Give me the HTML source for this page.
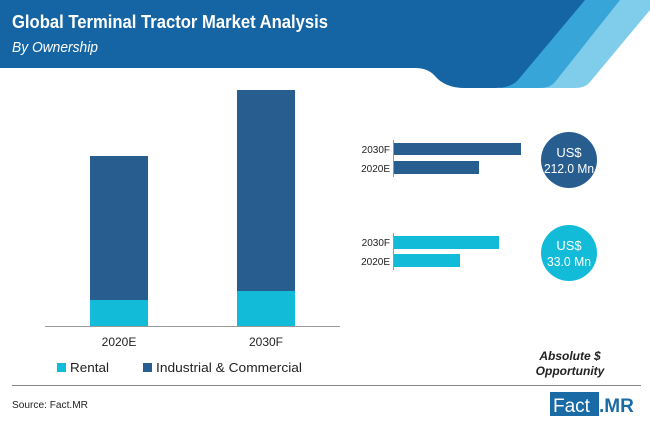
<!DOCTYPE html><html><head><style>body{margin:0;background:#fff}svg{display:block}text{font-family:"Liberation Sans",sans-serif}</style></head><body>
<svg width="650" height="427" viewBox="0 0 650 427">
<path d="M600,0 L650,0 L650,10 L590,82 Q585,88 575,88 L520,88 Z" fill="#7fcdeb"/>
<path d="M560,0 L620,0 L555,82 Q550,88 540,88 L500,88 Z" fill="#37a5d8"/>
<path d="M0,0 L585,0 L518,80 Q511,88 495,88 L465,88 Q445,88 435,76 Q428,68 415,68 L0,68 Z" fill="#1565a4"/>
<text x="12" y="28" font-size="18" font-weight="bold" fill="#fff" textLength="316" lengthAdjust="spacingAndGlyphs">Global Terminal Tractor Market Analysis</text>
<text x="12" y="52" font-size="15" font-style="italic" fill="#fff" textLength="86" lengthAdjust="spacingAndGlyphs">By Ownership</text>
<line x1="45" y1="326.5" x2="340" y2="326.5" stroke="#999"/>
<rect x="90" y="156" width="58" height="144" fill="#285d90"/>
<rect x="90" y="300" width="58" height="26" fill="#12bcd9"/>
<rect x="237" y="90" width="58" height="201" fill="#285d90"/>
<rect x="237" y="291" width="58" height="35" fill="#12bcd9"/>
<text x="119" y="346" font-size="12" text-anchor="middle" fill="#222">2020E</text>
<text x="266" y="346" font-size="12" text-anchor="middle" fill="#222">2030F</text>
<rect x="57" y="363" width="9" height="9" fill="#12bcd9"/>
<text x="70" y="372" font-size="13" fill="#222" textLength="39" lengthAdjust="spacingAndGlyphs">Rental</text>
<rect x="143" y="363" width="9" height="9" fill="#285d90"/>
<text x="156" y="372" font-size="13" fill="#222" textLength="146" lengthAdjust="spacingAndGlyphs">Industrial &amp; Commercial</text>
<line x1="393.5" y1="140" x2="393.5" y2="177" stroke="#999"/>
<rect x="394" y="143" width="127" height="12" fill="#285d90"/>
<rect x="394" y="161" width="85" height="13" fill="#285d90"/>
<text x="390" y="153" font-size="10" text-anchor="end" fill="#222">2030F</text>
<text x="390" y="172" font-size="10" text-anchor="end" fill="#222">2020E</text>
<line x1="393.5" y1="233" x2="393.5" y2="270" stroke="#999"/>
<rect x="394" y="236" width="105" height="13" fill="#12bcd9"/>
<rect x="394" y="254" width="66" height="13" fill="#12bcd9"/>
<text x="390" y="246" font-size="10" text-anchor="end" fill="#222">2030F</text>
<text x="390" y="265" font-size="10" text-anchor="end" fill="#222">2020E</text>
<circle cx="569" cy="160" r="28" fill="#285d90"/>
<text x="569" y="157" font-size="13" text-anchor="middle" fill="#fff">US$</text>
<text x="569" y="173" font-size="13" text-anchor="middle" fill="#fff" textLength="50" lengthAdjust="spacingAndGlyphs">212.0 Mn</text>
<circle cx="569" cy="253" r="28" fill="#12bcd9"/>
<text x="569" y="250" font-size="13" text-anchor="middle" fill="#fff">US$</text>
<text x="569" y="266" font-size="13" text-anchor="middle" fill="#fff" textLength="44" lengthAdjust="spacingAndGlyphs">33.0 Mn</text>
<text x="570" y="360" font-size="12" font-weight="bold" font-style="italic" text-anchor="middle" fill="#222">Absolute $</text>
<text x="570" y="375" font-size="12" font-weight="bold" font-style="italic" text-anchor="middle" fill="#222">Opportunity</text>
<line x1="12" y1="385.5" x2="641" y2="385.5" stroke="#888"/>
<text x="12" y="408" font-size="10" fill="#222" textLength="76" lengthAdjust="spacingAndGlyphs">Source: Fact.MR</text>
<rect x="550" y="392" width="49" height="24" fill="#1a6aa6"/>
<text x="553" y="412" font-size="19" fill="#fff">Fact</text>
<text x="599" y="412" font-size="19" font-weight="bold" fill="#1a6aa6">.MR</text>
</svg></body></html>
